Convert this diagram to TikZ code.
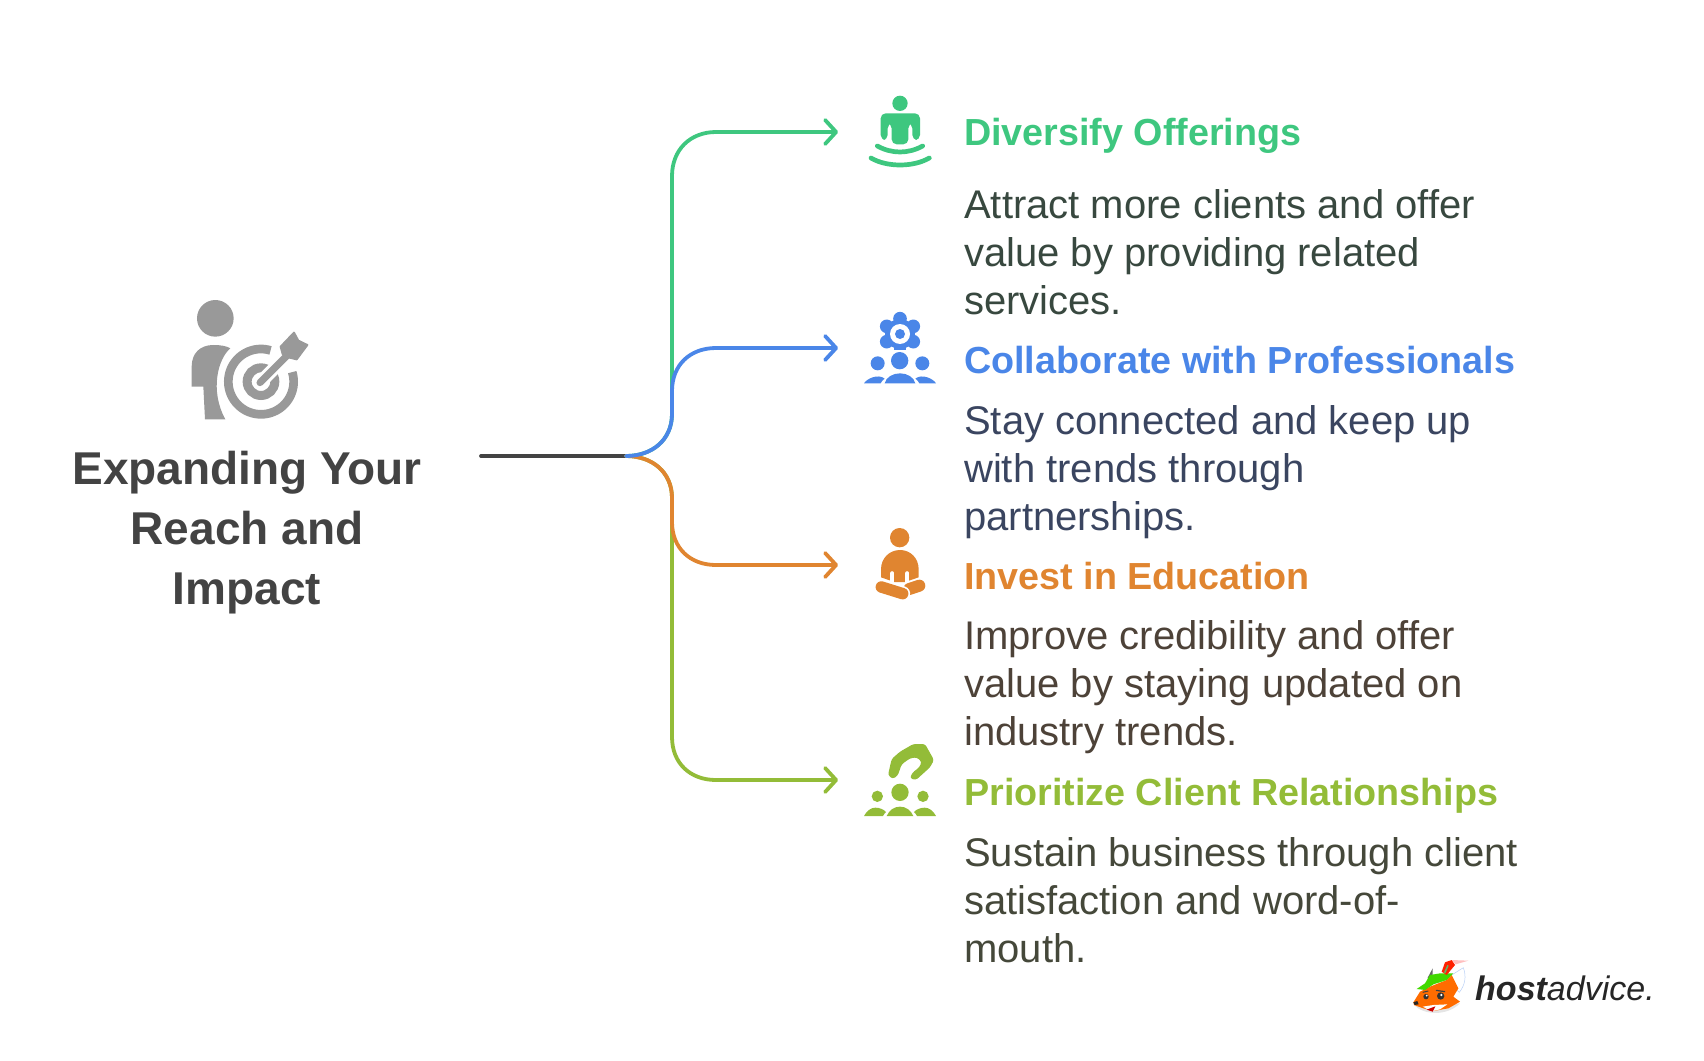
\documentclass[tikz,border=0pt]{standalone}
\usepackage{fontspec}
\usetikzlibrary{arrows.meta}
\setmainfont{Liberation Sans}
\definecolor{cgreen}{HTML}{3EC77F}
\definecolor{cblue}{HTML}{4A86E8}
\definecolor{corange}{HTML}{E08530}
\definecolor{clime}{HTML}{93BC38}
\definecolor{cgray}{HTML}{999999}
\definecolor{cdark}{HTML}{434343}
\definecolor{tgreen}{HTML}{38483F}
\definecolor{tblue}{HTML}{3A4560}
\definecolor{torange}{HTML}{4D4238}
\definecolor{tlime}{HTML}{45483A}
\tikzset{
  conn/.style={line width=3.8pt,line cap=round,line join=round},
  arrowed/.style={conn,-{Straight Barb[length=11pt,width=24pt,line width=3.8pt,round]}},
  heading/.style={anchor=base west,inner sep=0pt,font=\fontsize{37.7}{48}\selectfont\bfseries},
  descr/.style={anchor=base west,inner sep=0pt,align=left,font=\fontsize{40}{48}\selectfont},
  titletext/.style={anchor=base,inner sep=0pt,align=center,text=cdark,font=\fontsize{46}{60}\selectfont\bfseries},
  zoomed/.style={x=0.3333pt,y=-0.3333pt},
}
\begin{document}
\begin{tikzpicture}[x=1pt,y=-1pt]
\useasboundingbox (0,0) rectangle (1704,1060);
% title
\node[titletext] (title) at (247,604) {Expanding Your\\Reach and\\Impact};
% connectors
\coordinate (start) at (481,456);
\coordinate (hub) at (626,456);
\coordinate (e1) at (838,132);
\coordinate (e2) at (838,348);
\coordinate (e3) at (838,565);
\coordinate (e4) at (838,780);
\draw[conn,cdark] (start) -- (hub);
\draw[arrowed,clime] (hub) .. controls (652,456) and (672,472) .. (672,498) -- (672,737) .. controls (672,763) and (690,780) .. (716,780) -- (e4);
\draw[arrowed,cgreen] (hub) .. controls (652,456) and (672,440) .. (672,414) -- (672,176) .. controls (672,150) and (690,132) .. (716,132) -- (e1);
\draw[arrowed,corange] (hub) .. controls (652,456) and (672,472) .. (672,498) -- (672,522) .. controls (672,548) and (690,565) .. (716,565) -- (e3);
\draw[arrowed,cblue] (hub) .. controls (652,456) and (672,440) .. (672,414) -- (672,391) .. controls (672,365) and (690,348) .. (716,348) -- (e2);
% headings
\node[heading,text=cgreen] (h1) at (964,145.5) {Diversify Offerings};
\node[heading,text=cblue] (h2) at (964,373) {Collaborate with Professionals};
\node[heading,text=corange] (h3) at (964,589.5) {Invest in Education};
\node[heading,text=clime] (h4) at (964,805) {Prioritize Client Relationships};
% descriptions
\node[descr,text=tgreen] (d1) at (964,314) {Attract more clients and offer\\value by providing related\\services.};
\node[descr,text=tblue] (d2) at (964,530) {Stay connected and keep up\\with trends through\\partnerships.};
\node[descr,text=torange] (d3) at (964,745) {Improve credibility and offer\\value by staying updated on\\industry trends.};
\node[descr,text=tlime] (d4) at (964,962) {Sustain business through client\\satisfaction and word-of-\\mouth.};
% gray icon
\begin{scope}[shift={(150,280)},zoomed]
  \fill[cgray] (196,115) circle[radius=55];
  \fill[cgray] (125,320) -- (125,260) .. controls (125,220) and (150,195) .. (190,195) .. controls (212,195) and (230,198) .. (241,205) .. controls (205,235) and (178,330) .. (226,418) -- (165,418) -- (160,320) -- cycle;
  \draw[cgray,line width=8.7pt] plot[domain=-73:-377,samples=70] ({333+98*cos(\x)},{305+98*sin(\x)});
  \draw[cgray,line width=9pt] (333,305) circle[radius=41.5];
  \draw[white,line width=13pt,line cap=round] (333,305) -- (405,233);
  \draw[cgray,line width=7pt,line cap=round] (330,308) -- (410,228);
  \fill[cgray,line join=round,draw=cgray,line width=2pt] (392,200) -- (432,158) -- (445,182) -- (472,195) -- (440,238) -- (415,232) -- (398,222) -- cycle;
\end{scope}
% green icon
\begin{scope}[shift={(850,80)},zoomed]
  \fill[cgreen] (150,70) circle[radius=23];
  \fill[cgreen,rounded corners=5pt] (92,180) -- (92,100) -- (210,100) -- (210,180) -- (187,180) -- (187,130) -- (175,130) -- (175,193) -- (125,193) -- (125,130) -- (113,130) -- (113,180) -- cycle;
  \draw[cgreen,line width=4.7pt,line cap=round] (82,198) .. controls (125,222) and (175,222) .. (218,198);
  \draw[cgreen,line width=4.7pt,line cap=round] (63,234) .. controls (110,262) and (190,262) .. (238,234);
\end{scope}
% blue icon
\begin{scope}[shift={(850,300)},zoomed]
  \foreach \a in {30,150,210,270,330}
    \fill[cblue] ({150+46*cos(\a)},{102+46*sin(\a)}) circle[radius=20.5];
  \fill[cblue] (150,102) circle[radius=45];
  \fill[cblue] (132,150) -- (168,150) -- (168,135) -- (132,135) -- cycle;
  \fill[white] (150,102) circle[radius=30];
  \fill[cblue] (150,102) circle[radius=15];
  \fill[cblue] (149,182) circle[radius=26];
  \fill[cblue] (83,190) circle[radius=21];
  \fill[cblue] (217,190) circle[radius=21];
  \fill[cblue] (104,250) .. controls (108,232) and (128,220) .. (150,220) .. controls (172,220) and (192,232) .. (196,250) -- cycle;
  \fill[cblue] (42,250) .. controls (50,236) and (85,220) .. (104,236) .. controls (98,240) and (94,245) .. (92,250) -- cycle;
  \fill[cblue] (258,250) .. controls (250,236) and (215,220) .. (196,236) .. controls (202,240) and (206,245) .. (208,250) -- cycle;
\end{scope}
% orange icon
\begin{scope}[shift={(850,520)},zoomed]
  \fill[corange] (149,53) circle[radius=29];
  \fill[corange] (93,172) -- (93,148) .. controls (93,115) and (118,90) .. (150,90) .. controls (182,90) and (206,115) .. (206,148) -- (206,172) -- (165,186) -- (133,186) -- cycle;
  \draw[white,line width=4.3pt,line cap=round] (127,160) -- (127,190);
  \draw[white,line width=4.3pt,line cap=round] (172,160) -- (172,190);
  \draw[corange,line width=12pt,line cap=round] (178,207) -- (208,197);
  \draw[white,line width=15pt,line cap=round] (94,201) -- (158,221);
  \draw[corange,line width=11.5pt,line cap=round] (94,201) -- (158,221);
\end{scope}
% lime icon
\begin{scope}[shift={(850,735)},zoomed]
  \fill[clime,rounded corners=2.5pt] (114,120) -- (125,72) -- (150,50) -- (190,27) -- (225,27) -- (252,75) -- (240,97) -- (198,135) -- (180,130) -- (187,113) -- (208,97) -- (215,80) -- (200,67) -- (180,70) -- (155,88) -- (143,122) -- (128,132) -- cycle;
  \fill[clime] (150,172) circle[radius=26];
  \fill[clime] (82,184) circle[radius=17];
  \fill[clime] (219,184) circle[radius=17];
  \fill[clime] (110,243) .. controls (118,225) and (132,215) .. (150,215) .. controls (168,215) and (182,225) .. (190,243) -- cycle;
  \fill[clime] (42,243) .. controls (50,228) and (62,218) .. (76,218) .. controls (90,218) and (102,224) .. (108,231) .. controls (104,235) and (101,239) .. (99,243) -- cycle;
  \fill[clime] (258,243) .. controls (250,228) and (238,218) .. (224,218) .. controls (210,218) and (198,224) .. (192,231) .. controls (196,235) and (199,239) .. (201,243) -- cycle;
\end{scope}
% logo
\node[anchor=base west,inner sep=0pt,text=black!85,font=\fontsize{34}{40}\selectfont\itshape] (logo) at (1475,1000) {{\bfseries host}advice.};
\begin{scope}[shift={(1410,955)},zoomed]
  \fill[black!10] (12,150) .. controls (40,180) and (110,185) .. (150,145) -- (100,150) -- cycle;
  \fill[white,draw=cblue!40,line width=0.5pt] (125,60) -- (160,38) .. controls (170,65) and (165,90) .. (148,112) -- (125,90) -- cycle;
  \fill[black!60] (52,70) -- (68,40) -- (68,65) -- cycle;
  \fill[orange!85!red] (10,142) -- (30,110) -- (60,95) -- (110,75) -- (125,60) -- (145,100) -- (130,125) -- (150,140) -- (115,160) -- (70,168) -- (40,160) -- (12,150) -- cycle;
  \fill[white] (38,155) -- (70,150) -- (112,148) -- (90,163) -- (65,169) -- cycle;
  \fill[red!80!black] (50,164) -- (76,154) -- (68,170) -- cycle;
  \fill[black!85] (10,142) -- (22,138) -- (26,148) -- (14,150) -- cycle;
  \draw[black!75,line width=1.2pt] (78,106) -- (105,110);
  \draw[black!75,line width=1pt] (38,112) -- (55,108);
  \fill[black!80] (92,123) circle[radius=11];
  \fill[black!80] (48,125) circle[radius=8];
  \fill[white] (94,120) circle[radius=4];
  \fill[white] (50,122) circle[radius=3];
  \fill[green!60!lime!85!black] (20,102) -- (45,85) -- (60,60) -- (90,55) -- (130,55) -- (110,75) -- (70,88) -- (45,105) -- cycle;
  \fill[red!75!orange] (95,50) -- (105,22) -- (125,15) -- (135,30) -- (110,60) -- cycle;
  \fill[green!50!black!60] (102,52) -- (112,30) -- (116,32) -- (106,55) -- cycle;
  \fill[red!25] (125,15) -- (175,17) -- (137,28) -- cycle;
\end{scope}
\end{tikzpicture}
\end{document}
